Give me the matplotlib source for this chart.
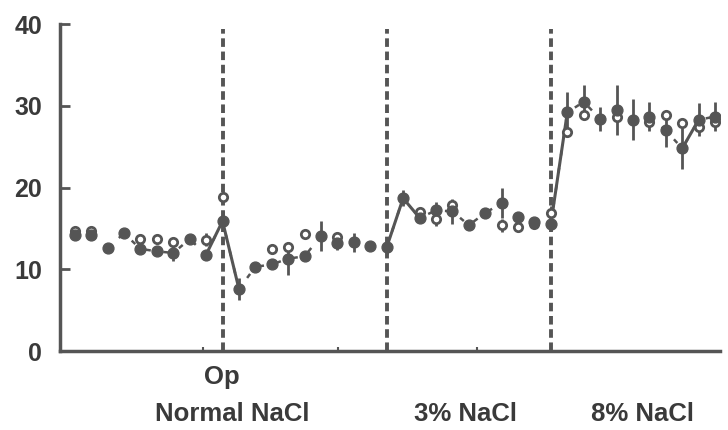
import numpy as np
import matplotlib.pyplot as plt

plt.rcParams["font.family"] = ["Liberation Sans", "DejaVu Sans"]

# sample index along the time course
day = np.arange(1, 41)

# filled circles (mean) and error
filled = [14.2, 14.2, 12.6, 14.4, 12.5, 12.2, 12.0, 13.7, 11.8, 15.9,
          7.6, 10.3, 10.6, 11.3, 11.6, 14.1, 13.2, 13.3, 12.9, 12.7,
          18.7, 16.3, 17.2, 17.1, 15.4, 16.9, 18.1, 16.4, 15.8, 15.6,
          29.2, 30.5, 28.4, 29.5, 28.3, 28.7, 27.0, 24.8, 28.3, 28.7]
filled_err = [0, 0, 0, 0, 0, 0, 1.0, 0, 0.6, 1.2,
              1.3, 0, 0, 2.0, 0, 1.8, 0.8, 1.2, 0, 0.8,
              1.0, 0.5, 1.0, 1.5, 0, 0.6, 1.8, 0.6, 0, 0.8,
              2.5, 2.0, 1.5, 3.0, 2.5, 1.8, 2.0, 2.5, 2.0, 1.8]

# open circles
nan = np.nan
opened = [14.7, 14.7, nan, nan, 13.7, 13.7, 13.3, nan, 13.6, 18.8,
          nan, nan, 12.5, 12.7, 14.3, nan, 13.9, nan, nan, nan,
          nan, 17.0, 16.1, 17.9, nan, nan, 15.4, 15.2, 15.6, 16.9,
          26.8, 28.9, nan, 28.7, nan, 28.0, 28.9, 27.9, 27.4, 28.0]
opened_err = [0, 0, 0, 0, 0, 0, 0, 0, 0.8, 0,
              0, 0, 0, 0, 0, 0, 0, 0, 0, 0,
              0, 0.5, 0.8, 0, 0, 0, 0.8, 0, 0, 0.8,
              0, 0, 0, 0, 0, 0, 0, 0, 0, 0]

# solid segments around the treatment changes
solid_runs = [[9, 10, 11], [20, 21, 22], [30, 31], [38, 39]]

phase_lines = [10, 20, 30]
xticks_small = [8.8, 17.05, 25.5]

gray = "#555555"
txt = "#3a3a3a"

fig = plt.figure(figsize=(7.28, 4.30), dpi=100)
ax = fig.add_axes([0.0824, 0.1837, 0.9066, 0.760])

day = np.array(day)
filled = np.array(filled)
opened = np.array(opened)

# phase boundaries
ax.vlines(phase_lines, 0, 39.4, colors=gray, linestyles=(0, (2.2, 1.2)),
          linewidth=2.8, zorder=1)

# dashed connecting line for the filled series
ax.plot(day, filled, color=gray, linestyle=(0, (2, 5)), linewidth=1.8, zorder=2)
for run in solid_runs:
    idx = np.array(run) - 1
    ax.plot(day[idx], filled[idx], color=gray, linewidth=2.2, zorder=2)

# error bars
ax.vlines(day, filled - np.array(filled_err), filled + np.array(filled_err),
          colors=gray, linewidth=2, zorder=3)
ax.vlines(day, opened - np.array(opened_err), opened + np.array(opened_err),
          colors=gray, linewidth=2, zorder=3)

ax.plot(day, opened, "o", markersize=6, markerfacecolor="white",
        markeredgecolor=gray, markeredgewidth=2, zorder=4)
ax.plot(day, filled, "o", markersize=7.8, color=gray, zorder=5)

ax.set_xlim(0.1, 40.3)
ax.set_ylim(0, 40)
ax.set_yticks([0, 10, 20, 30, 40])
ax.set_xticks(xticks_small)
ax.set_xticklabels([])

for s in ["top", "right"]:
    ax.spines[s].set_visible(False)
for s in ["left", "bottom"]:
    ax.spines[s].set_color(gray)
    ax.spines[s].set_linewidth(2.5)

ax.tick_params(axis="y", direction="in", length=7, width=2, color=gray,
               labelsize=18, labelcolor=txt, pad=13)
ax.tick_params(axis="x", direction="in", length=3, width=1.5, color=gray)
for lab in ax.get_yticklabels():
    lab.set_fontweight("bold")

fig.text(0.305, 0.123, "Op", ha="center", va="center", fontsize=18.5,
         color=txt, fontweight="bold")
fig.text(0.319, 0.037, "Normal NaCl", ha="center", va="center", fontsize=18.5,
         color=txt, fontweight="bold")
fig.text(0.640, 0.037, "3% NaCl", ha="center", va="center", fontsize=18.5,
         color=txt, fontweight="bold")
fig.text(0.883, 0.037, "8% NaCl", ha="center", va="center", fontsize=18.5,
         color=txt, fontweight="bold")

fig.savefig("out.png", dpi=100)
